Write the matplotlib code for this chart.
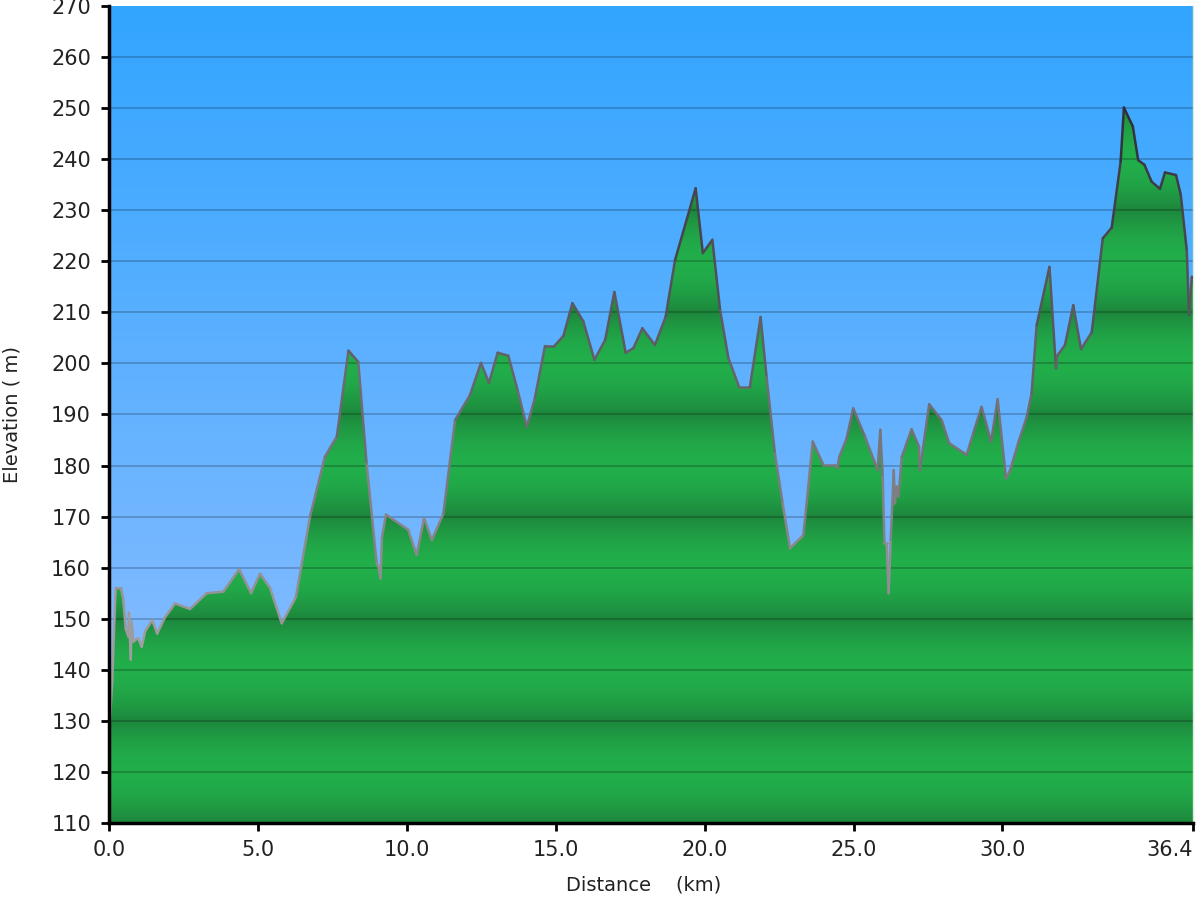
import numpy as np
import matplotlib
matplotlib.use("Agg")
import matplotlib.pyplot as plt
from matplotlib.collections import LineCollection
from matplotlib.patches import Polygon

# ---- data ----
dist_km = [0.00, 0.11, 0.22, 0.40, 0.48, 0.56, 0.65, 0.67, 0.73, 0.76, 0.82, 0.87,
           0.98, 1.10, 1.21, 1.45, 1.62, 1.86, 2.22, 2.72, 3.28, 3.84, 4.37, 4.77,
           5.07, 5.41, 5.80, 6.28, 6.75, 7.25, 7.65, 8.04, 8.37, 8.65, 8.99, 9.05,
           9.12, 9.16, 9.30, 10.05, 10.33, 10.58, 10.84, 11.23, 11.62, 12.12, 12.49,
           12.76, 13.05, 13.41, 13.72, 14.03, 14.30, 14.64, 14.95, 15.26, 15.56,
           15.93, 16.30, 16.66, 16.97, 17.35, 17.61, 17.91, 18.33, 18.69, 19.01,
           19.70, 19.94, 20.26, 20.52, 20.80, 21.16, 21.52, 21.88, 22.08, 22.36,
           22.62, 22.87, 23.32, 23.63, 23.99, 24.38, 24.46, 24.52, 24.77, 24.99,
           25.39, 25.81, 25.90, 25.98, 26.04, 26.11, 26.18, 26.25, 26.35, 26.39,
           26.45, 26.51, 26.62, 26.95, 27.20, 27.23, 27.54, 27.96, 28.21, 28.80,
           29.02, 29.30, 29.62, 29.84, 30.12, 30.26, 30.53, 30.82, 30.98, 31.15,
           31.58, 31.80, 31.84, 32.10, 32.38, 32.64, 33.00, 33.37, 33.67, 33.97,
           34.08, 34.38, 34.56, 34.77, 35.01, 35.29, 35.46, 35.83, 35.99, 36.19,
           36.27, 36.36, 36.40]
elev_m = [127.0, 138.0, 156.0, 156.0, 153.7, 148.1, 146.5, 151.2, 142.0, 149.4, 145.5, 145.8,
          146.2, 144.5, 147.5, 149.7, 147.1, 150.1, 153.0, 151.9, 155.0, 155.3, 159.7, 155.0,
          158.8, 156.0, 149.1, 154.3, 170.0, 181.7, 185.7, 202.5, 200.3, 180.4, 160.8, 160.2,
          157.9, 165.7, 170.4, 167.4, 162.5, 169.7, 165.4, 170.6, 188.9, 193.8, 200.1,
          196.2, 202.1, 201.5, 194.8, 187.6, 193.2, 203.4, 203.4, 205.4, 211.8,
          208.2, 200.7, 204.6, 214.0, 202.1, 203.0, 206.9, 203.6, 209.1, 220.3,
          234.3, 221.6, 224.2, 210.5, 201.0, 195.4, 195.4, 209.1, 197.4, 182.4,
          172.6, 163.8, 166.4, 184.7, 180.1, 180.1, 179.5, 181.7, 185.3, 191.2,
          185.6, 179.1, 187.0, 177.8, 164.8, 164.8, 155.0, 165.4, 179.1, 172.6,
          175.9, 173.9, 181.7, 187.1, 183.7, 179.1, 192.0, 188.9, 184.4, 182.1,
          186.3, 191.5, 184.7, 193.0, 177.5, 179.1, 184.4, 189.6, 194.1, 207.5,
          218.9, 199.0, 201.5, 203.6, 211.4, 202.8, 206.1, 224.5, 226.6, 239.5,
          250.1, 246.4, 239.8, 238.9, 235.6, 234.2, 237.4, 236.9, 233.0, 222.2,
          209.5, 217.0, 217.0]

x_ticks = [0.0, 5.0, 10.0, 15.0, 20.0, 25.0, 30.0, 36.4]
x_tick_labels = ["0.0", "5.0", "10.0", "15.0", "20.0", "25.0", "30.0", "36.4"]
y_ticks = list(range(110, 271, 10))

XMIN, XMAX = 0.0, 36.4
YMIN, YMAX = 110, 270

fig = plt.figure(figsize=(12, 9), dpi=100)
ax = fig.add_axes([109/1200, 77/900, (1193-109)/1200, (823-6)/900])
ax.set_xlim(XMIN, XMAX)
ax.set_ylim(YMIN, YMAX)

# ---- blue sky gradient background ----
n = 400
t = np.linspace(0, 1, n)[:, None]  # 0 bottom -> 1 top
top = np.array([50, 165, 255]) / 255
bot = np.array([150, 192, 255]) / 255
sky = (bot + (top - bot) * t)[:, None, :]
ax.imshow(sky, extent=[XMIN, XMAX, YMIN, YMAX], origin="lower", aspect="auto",
          zorder=0, interpolation="bilinear")

# ---- green banded gradient fill ----
vals = np.linspace(YMIN, YMAX, 1600)
phase = ((vals - 110) % 20) / 20.0
w = (0.5 - 0.5 * np.cos(2 * np.pi * phase)) ** 0.45
dark = np.array([29, 134, 60]) / 255
bright = np.array([34, 174, 75]) / 255
green = (dark + (bright - dark) * w[:, None])[:, None, :]
im = ax.imshow(green, extent=[XMIN, XMAX, YMIN, YMAX], origin="lower", aspect="auto",
               zorder=1, interpolation="bilinear")
poly_xy = np.column_stack([[dist_km[0]] + dist_km + [dist_km[-1]],
                           [YMIN] + elev_m + [YMIN]])
clip = Polygon(poly_xy, closed=True, transform=ax.transData, facecolor="none",
               edgecolor="none")
ax.add_patch(clip)
im.set_clip_path(clip)

# ---- grid lines ----
for yv in y_ticks[1:-1]:
    ax.axhline(yv, color="black", alpha=0.2, lw=1.4, zorder=2)

# ---- outline with elevation-dependent grey ----
pts = np.column_stack([dist_km, elev_m])
segs = np.stack([pts[:-1], pts[1:]], axis=1)
mid = (np.array(elev_m[:-1]) + np.array(elev_m[1:])) / 2
f = np.clip((mid - 145) / (250 - 145), 0, 1)[:, None]
lo_c = np.array([160, 158, 160]) / 255
hi_c = np.array([45, 45, 55]) / 255
cols = lo_c + (hi_c - lo_c) * f
lc = LineCollection(segs, colors=cols, linewidths=1.8, zorder=3, capstyle="round",
                    joinstyle="round")
ax.add_collection(lc)

# ---- axes styling ----
ax.spines["top"].set_visible(False)
ax.spines["right"].set_color("#d8ecd8")
ax.spines["right"].set_linewidth(1.0)
for s in ["left", "bottom"]:
    ax.spines[s].set_linewidth(2.5)
    ax.spines[s].set_color("black")
    ax.spines[s].set_zorder(5)

ax.set_xticks(x_ticks)
ax.set_xticklabels(x_tick_labels)
ax.set_yticks(y_ticks)
ax.tick_params(axis="both", direction="out", length=6, width=2, labelsize=15,
               colors="black", labelcolor="#222222")
ax.tick_params(axis="y", pad=7)
ax.tick_params(axis="x", pad=6)
xl = ax.get_xticklabels()
xl[-1].set_horizontalalignment("right")
xl[-1].set_x(36.4)

ax.set_ylabel("Elevation ( m)", fontsize=14, color="#222222")
ax.yaxis.set_label_coords(-0.081, 0.5)
ax.set_xlabel("Distance    (km)", fontsize=14, color="#222222")
ax.xaxis.set_label_coords(0.4935, -0.064)

fig.savefig("out.png", dpi=100, facecolor="white")
